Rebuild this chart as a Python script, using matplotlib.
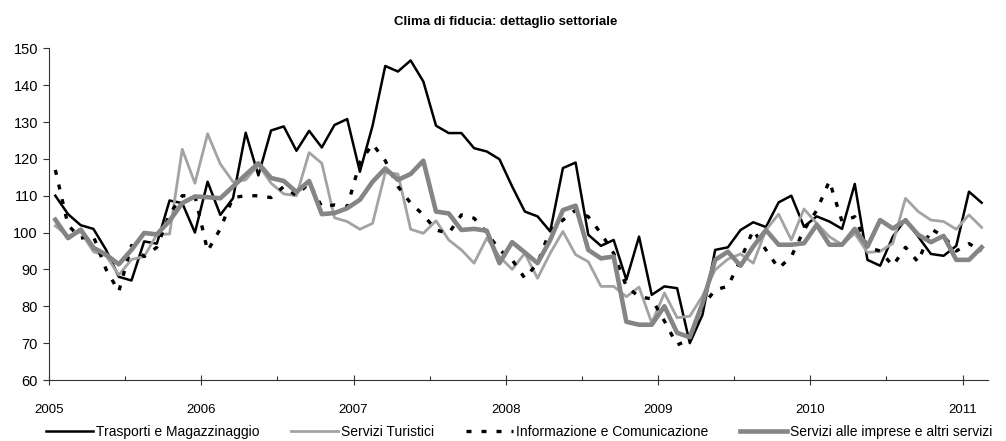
import numpy as np
import matplotlib
matplotlib.use("Agg")
import matplotlib.pyplot as plt
from matplotlib.ticker import MultipleLocator

plt.rcParams['font.family'] = ['Liberation Sans', 'DejaVu Sans']

title = "Clima di fiducia: dettaglio settoriale"
series_names = ["Trasporti e Magazzinaggio", "Servizi Turistici",
                "Informazione e Comunicazione", "Servizi alle imprese e altri servizi"]
start_year = 2005
year_labels = ["2005", "2006", "2007", "2008", "2009", "2010", "2011"]

trasporti = [110, 105, 102, 101, 95.3, 88, 87, 97.6, 97, 108.7, 108, 100,
             113.8, 104.8, 109.3, 127.1, 115.5, 127.7, 128.8, 122.2, 127.6, 123.1, 129.2, 130.8,
             116.5, 129, 145.2, 143.7, 146.7, 141, 129, 127, 127, 122.9, 122, 119.9,
             112.5, 105.7, 104.4, 100.3, 117.5, 119, 99.4, 96.4, 98, 87.2, 98.9, 83.1,
             85.4, 84.9, 70, 77.7, 95.3, 96, 100.7, 102.8, 101.5, 108.2, 110, 101.6,
             104.4, 103, 101, 113.2, 92.6, 91, 98.9, 103.6, 98.9, 94.2, 93.7, 96.4,
             111.1, 108.1]
turistici = [101.8, 99, 100.3, 94.8, 93.7, 88.5, 92.7, 93.5, 99.5, 99.6, 122.6, 113.4,
             126.8, 118.6, 113.8, 114.3, 118.4, 113.4, 110.5, 110, 121.7, 118.8, 104, 103,
             100.9, 102.5, 116.3, 115.9, 100.9, 99.8, 103.2, 98, 95.3, 91.7, 98.5, 93.5,
             90, 94.4, 87.6, 94.4, 100.3, 94, 92.1, 85.4, 85.4, 82.6, 85.2, 75.5,
             83.6, 76.9, 77.3, 82.8, 89.9, 92.8, 94.2, 91.7, 100.7, 105, 98, 106.4,
             102.5, 98.9, 96.7, 99.8, 94.6, 94.9, 97.1, 109.3, 105.7, 103.4, 103, 100.9,
             104.8, 101.4]
informazione = [117, 102, 98.5, 99, 90, 84, 96.5, 93.5, 96, 105, 110, 110,
                95, 101, 109.5, 110, 110, 109.5, 112.5, 110, 113.5, 107, 107.5, 107,
                119, 124, 119.5, 112.5, 108, 104.8, 100.7, 99.8, 104.8, 103.9, 100, 95.3,
                92.6, 87.6, 91.7, 100.7, 103.4, 106.1, 104.3, 99.8, 94.4, 85.4, 82.6, 82,
                76, 69.5, 71, 80, 84.5, 85.4, 92.6, 100.7, 95.3, 90.3, 93.5, 100.7,
                106, 114, 103, 104.3, 96, 95, 91, 96, 92, 101, 99, 95,
                97, 95]
imprese = [103.5, 98.5, 100.8, 95.9, 94, 91.4, 95.3, 99.9, 99.5, 103.2, 108, 109.8,
           109.6, 109.3, 112.5, 115.7, 118.8, 114.8, 114, 111, 114, 105, 105.3, 106.6,
           108.9, 113.8, 117.4, 114.3, 115.9, 119.5, 105.7, 105.2, 100.7, 101, 100.5, 91.7,
           97.4, 94.6, 91.7, 98, 106.1, 107.3, 95.3, 93, 93.5, 75.8, 75, 75,
           80, 72.8, 71.6, 80.8, 92.6, 94.8, 91, 96.2, 100.7, 96.7, 96.7, 97.1,
           102.1, 96.7, 96.7, 101, 96.2, 103.4, 101.1, 103.3, 99.4, 97.4, 99.1, 92.6,
           92.6, 96]

n = len(trasporti)
x = start_year + (np.arange(n) + 0.5) / 12.0

fig = plt.figure(figsize=(10.06, 4.41), dpi=100)
ax = fig.add_axes([49/1006, 1 - 380/441, (988 - 49)/1006, (380 - 48.3)/441])

l1, = ax.plot(x, trasporti, color='black', lw=1.8)
l2, = ax.plot(x, turistici, color='#A3A3A3', lw=2.0)
l3, = ax.plot(x, informazione, color='black', lw=2.4, dashes=(1.5, 3.0))
l4, = ax.plot(x, imprese, color='#858585', lw=3.3)

ax.set_ylim(60, 150)
ax.set_xlim(2005, 2005 + n / 12.0)
ax.yaxis.set_major_locator(MultipleLocator(10))
ax.set_xticks([2005 + i for i in range(len(year_labels))])
ax.set_xticklabels(year_labels)
ax.xaxis.set_minor_locator(MultipleLocator(0.5))

for s in ['top', 'right']:
    ax.spines[s].set_visible(False)
for s in ['left', 'bottom']:
    ax.spines[s].set_linewidth(0.8)
    ax.spines[s].set_color('#333333')

ax.tick_params(axis='y', direction='out', length=4, width=0.8, pad=4, labelsize=10.5, colors='#333333', labelcolor='black')
ax.tick_params(axis='x', which='major', direction='inout', length=7, width=0.8, pad=14, labelsize=9.5, colors='#333333', labelcolor='black')
ax.tick_params(axis='x', which='minor', direction='in', length=3, width=0.8, colors='#333333')

fig.text(0.503, 1 - 22/441, title, ha='center', va='center', fontsize=9.5, fontweight='bold')

fig.legend([l1, l2, l3, l4], series_names, loc='center', bbox_to_anchor=(0.516, 1 - 432/441),
           ncol=4, frameon=False, fontsize=10, handlelength=3.4, handletextpad=0.2,
           columnspacing=2.3, borderaxespad=0)

fig.savefig('out.png', dpi=100)
